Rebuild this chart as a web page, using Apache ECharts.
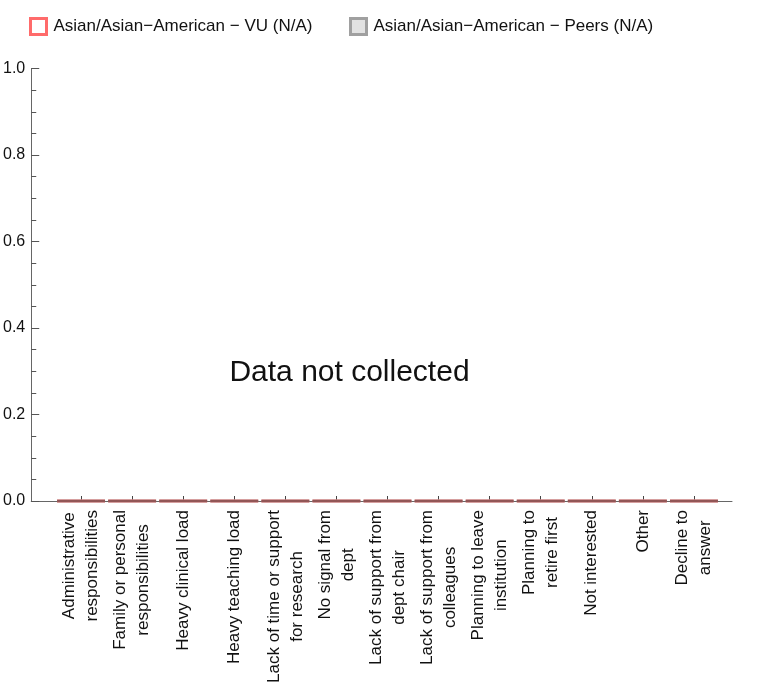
<!DOCTYPE html>
<html>
<head>
<meta charset="utf-8">
<script src="https://cdn.jsdelivr.net/npm/echarts@6/dist/echarts.min.js"></script>
<style>
html,body{margin:0;padding:0;background:#fff;}
#chart{width:774px;height:688px;}
</style>
</head>
<body>
<div id="chart"></div>
<script>
var categories = [
  'Administrative\nresponsibilities',
  'Family or personal\nresponsibilities',
  'Heavy clinical load',
  'Heavy teaching load',
  'Lack of time or support\nfor research',
  'No signal from\ndept',
  'Lack of support from\ndept chair',
  'Lack of support from\ncolleagues',
  'Planning to leave\ninstitution',
  'Planning to\nretire first',
  'Not interested',
  'Other',
  'Decline to\nanswer'
];
var vuValues = [0, 0, 0, 0, 0, 0, 0, 0, 0, 0, 0, 0, 0];
var peersValues = [0, 0, 0, 0, 0, 0, 0, 0, 0, 0, 0, 0, 0];
var seriesNames = ['Asian/Asian\u2212American \u2212 VU (N/A)', 'Asian/Asian\u2212American \u2212 Peers (N/A)'];
var yMin = 0, yMax = 1, yInterval = 0.2;
var noDataText = 'Data not collected';

var FONT = '"Liberation Sans", Arial, sans-serif';
var chart = echarts.init(document.getElementById('chart'));

function richLabel(v) {
  return v.split('\n').map(function (s) { return '{c|' + s + '}'; }).join('\n');
}

var option = {
  backgroundColor: '#fff',
  animation: false,
  textStyle: { fontFamily: FONT },
  legend: [
    {
      left: 24, top: 12, itemWidth: 16, itemHeight: 16,
      textStyle: { fontSize: 17, color: '#111', fontFamily: FONT, padding: [0, 0, 0, 2] },
      data: [{ name: seriesNames[0], icon: 'rect', itemStyle: { color: '#ffffff', borderColor: '#ff6b6b', borderWidth: 3 } }]
    },
    {
      left: 344, top: 12, itemWidth: 16, itemHeight: 16,
      textStyle: { fontSize: 17, color: '#111', fontFamily: FONT, padding: [0, 0, 0, 2] },
      data: [{ name: seriesNames[1], icon: 'rect', itemStyle: { color: '#e2e2e2', borderColor: '#a0a0a0', borderWidth: 3 } }]
    }
  ],
  grid: [
    { left: 31, right: 42, top: 68.5, bottom: 187, containLabel: false },
    { left: 55.5, right: 54.5, top: 68.5, bottom: 187, containLabel: false }
  ],
  xAxis: [
    {
      gridIndex: 0, type: 'value', min: 0, max: 1,
      axisLine: { show: true, onZero: false, lineStyle: { color: '#666', width: 1 } },
      axisTick: { show: false }, axisLabel: { show: false }, splitLine: { show: false }
    },
    {
      gridIndex: 1, type: 'category', data: categories, boundaryGap: true,
      axisLine: { show: false },
      axisTick: { show: true, inside: true, length: 5, alignWithLabel: true, lineStyle: { color: '#444' } },
      axisLabel: {
        interval: 0, rotate: 90, margin: 9, color: '#111', fontSize: 17, fontFamily: FONT,
        formatter: richLabel,
        rich: { c: { align: 'center', fontSize: 17, lineHeight: 23, color: '#111', fontFamily: FONT } }
      },
      splitLine: { show: false }
    }
  ],
  yAxis: [
    {
      gridIndex: 0, type: 'value', min: yMin, max: yMax, interval: yInterval,
      axisLine: { show: true, lineStyle: { color: '#666', width: 1 } },
      axisTick: { show: true, inside: true, length: 8, lineStyle: { color: '#555' } },
      minorTick: { show: true, splitNumber: 4, length: 5, lineStyle: { color: '#555' } },
      axisLabel: { margin: 6, color: '#111', fontSize: 16, fontFamily: FONT,
        formatter: function (v) { return v.toFixed(1); } },
      splitLine: { show: false }
    },
    {
      gridIndex: 1, type: 'value', min: yMin, max: yMax, show: false
    }
  ],
  series: [
    {
      name: seriesNames[0], type: 'bar', xAxisIndex: 1, yAxisIndex: 1,
      data: vuValues, barWidth: 48, barGap: '-100%', clip: false,
      itemStyle: { color: '#ffffff', borderColor: '#c98080', borderWidth: 3.5 }
    },
    {
      name: seriesNames[1], type: 'bar', xAxisIndex: 1, yAxisIndex: 1,
      data: peersValues, barWidth: 48, barGap: '-100%', clip: false,
      itemStyle: { color: '#e2e2e2', borderColor: '#804848', borderWidth: 1.6 }
    }
  ],
  graphic: [
    {
      type: 'text', x: 349.5, y: 373,
      style: { text: noDataText, fontSize: 30, fontFamily: FONT, fill: '#111', align: 'center', verticalAlign: 'middle' }
    }
  ]
};
chart.setOption(option);
</script>
</body>
</html>
